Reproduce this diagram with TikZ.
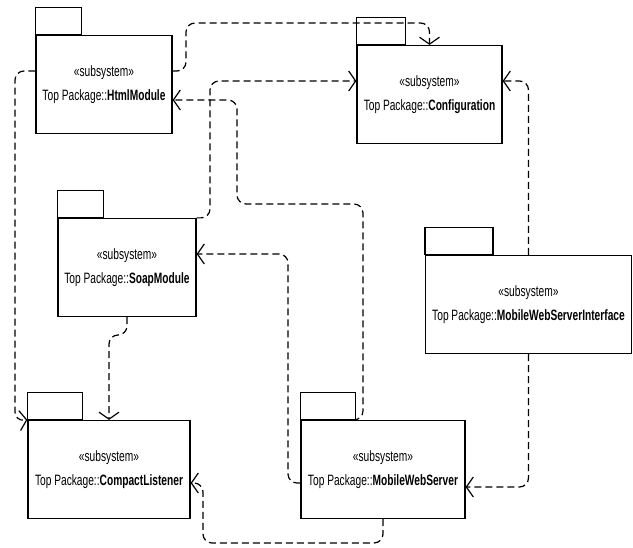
\documentclass[tikz,border=0pt]{standalone}
\usepackage{fontspec}
\setmainfont{Liberation Sans}[FakeStretch=0.68]
\usetikzlibrary{arrows.meta}

% tab on top of a package box
\newcommand{\pkgtab}[2]{\draw[pkgline] (#1.north west) rectangle ++(#2,-27);}

\begin{document}
\begin{tikzpicture}[x=1pt,y=-1pt,
    pkgline/.style={line width=1.2pt},
    pkg/.style={draw,line width=1.2pt,align=center,inner sep=0pt,minimum height=98pt,
      font=\fontsize{15}{24}\selectfont},
    dep/.style={line width=1.2pt,dash pattern=on 7pt off 4pt,rounded corners=9pt,
      -{Straight Barb[length=7pt,width=20pt]}}]
    \useasboundingbox (0,0) rectangle (633,548);

    \node[pkg,minimum width=136pt] (html) at (104,84.5) {«subsystem»\\Top Package::\textbf{HtmlModule}};
    \node[pkg,minimum width=145pt] (config) at (429.5,94.5) {«subsystem»\\Top Package::\textbf{Configuration}};
    \node[pkg,minimum width=138pt] (soap) at (127,267.5) {«subsystem»\\Top Package::\textbf{SoapModule}};
    \node[pkg,minimum width=206pt] (mwsi) at (528.5,304.5) {«subsystem»\\Top Package::\textbf{MobileWebServerInterface}};
    \node[pkg,minimum width=162pt] (cl) at (109,469.5) {«subsystem»\\Top Package::\textbf{CompactListener}};
    \node[pkg,minimum width=164pt] (mws) at (383,469.5) {«subsystem»\\Top Package::\textbf{MobileWebServer}};

    \pkgtab{html}{46}
    \pkgtab{config}{49}
    \pkgtab{soap}{46}
    \pkgtab{mwsi}{68}
    \pkgtab{cl}{55}
    \pkgtab{mws}{55}

    % dependencies
    \draw[dep] ([yshift=13.5pt]html.east) -| (186,23) -| (config.north);
    \draw[dep] (soap.north east) -| (210,81) -- ([yshift=13.5pt]config.west);
    \draw[dep] ([xshift=55pt]mws.north west) -| (363,204) -| (237,100) -- ([yshift=-15.5pt]html.east);
    \draw[dep] ([yshift=-13.5pt]mws.west) -| (288,254) -- ([yshift=13.5pt]soap.east);
    \draw[dep] (mws.south) |- (203,543) |- ([yshift=-13.5pt]cl.east);
    \draw[dep] (mwsi.north) |- ([yshift=13.5pt]config.east);
    \draw[dep] (mwsi.south) |- ([yshift=-17.5pt]mws.east);
    \draw[dep] ([yshift=13.5pt]html.west) -| (15,421) -- (cl.north west);
    \draw[dep] (soap.south) -- (127,335) -| (cl.north);
\end{tikzpicture}
\end{document}
